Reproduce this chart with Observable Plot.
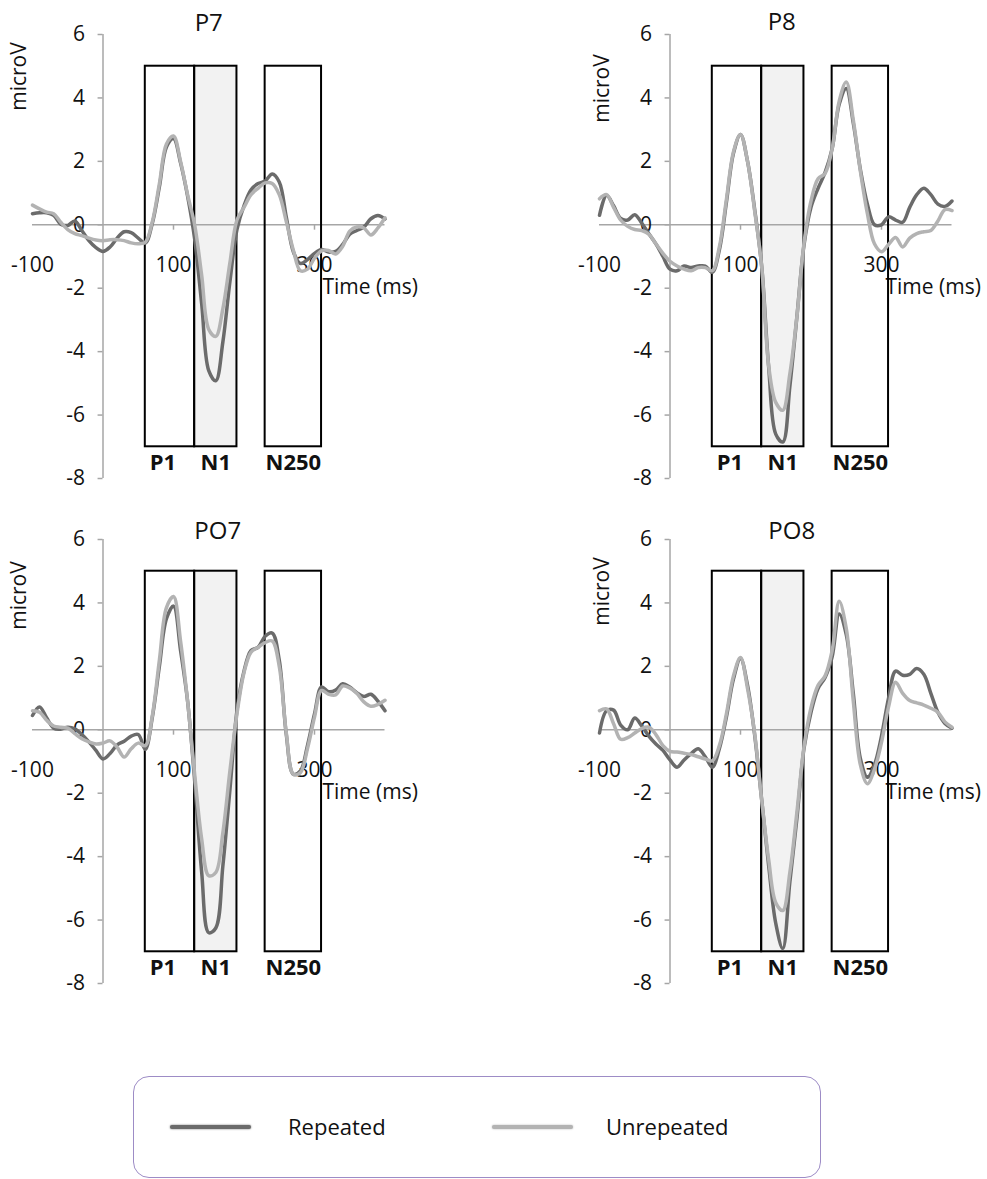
<!DOCTYPE html>
<html>
<head>
<meta charset="utf-8">
<script src="https://cdn.jsdelivr.net/npm/d3@7"></script>
<script src="https://cdn.jsdelivr.net/npm/@observablehq/plot@0.6"></script>
<style>
  html, body { margin: 0; padding: 0; background: #fff; }
  #page { position: relative; width: 987px; height: 1179px; overflow: hidden; font-family: "Open Sans", sans-serif; }
  .panel { position: absolute; width: 420px; height: 490px; }
  .panel svg { overflow: visible; }
  #legend { position: absolute; left: 133px; top: 1076px; width: 688px; height: 102px; box-sizing: border-box;
            border: 1.5px solid #9d8cc6; border-radius: 16px; }
  .lg-line { position: absolute; height: 4px; width: 81px; border-radius: 2px; }
  .lg-text { position: absolute; font-size: 22px; line-height: 1; color: #111; }
</style>
</head>
<body>
<div id="page"></div>
<script>
// ---- data ----
const times = [-100,-90,-80,-70,-60,-50,-40,-30,-20,-10,0,10,20,30,40,50,60,70,80,90,100,110,120,130,140,150,160,170,180,190,200,210,220,230,240,250,260,270,280,290,300,310,320,330,340,350,360,370,380,390,400];

const p7Repeated = [0.35,0.38,0.38,0.3,0.02,-0.02,0.12,-0.18,-0.5,-0.72,-0.84,-0.7,-0.42,-0.22,-0.25,-0.42,-0.58,0.05,1.2,2.45,2.72,1.95,0.9,-0.45,-2.5,-4.6,-4.92,-3.7,-1.8,-0.15,0.6,1.1,1.3,1.38,1.6,1.35,0.24,-0.85,-1.22,-1.1,-0.9,-0.78,-0.86,-0.84,-0.62,-0.3,-0.18,-0.07,0.19,0.29,0.18];
const p7Unrepeated = [0.62,0.5,0.4,0.35,0.08,-0.15,-0.28,-0.34,-0.42,-0.48,-0.5,-0.47,-0.47,-0.5,-0.57,-0.6,-0.55,0.1,1.3,2.55,2.8,2.0,0.95,0.0,-1.6,-3.3,-3.52,-2.65,-1.2,0.15,0.55,0.95,1.15,1.32,1.3,0.95,0.1,-0.8,-1.45,-1.4,-1.05,-0.82,-0.81,-0.92,-0.68,-0.2,-0.07,-0.1,-0.32,-0.1,0.22];

const p8Repeated = [0.3,0.93,0.6,0.2,0.15,0.32,0.05,-0.28,-0.6,-1.0,-1.4,-1.45,-1.3,-1.35,-1.3,-1.3,-1.5,-0.8,0.7,2.25,2.85,2.0,0.5,-1.3,-4.5,-6.6,-6.85,-5.1,-2.9,-0.65,0.55,1.15,1.65,2.4,3.8,4.3,3.2,1.75,0.65,0.0,0.0,0.25,0.15,0.08,0.55,0.95,1.15,0.95,0.65,0.58,0.75];
const p8Unrepeated = [0.82,0.95,0.55,0.15,-0.05,-0.15,-0.18,-0.3,-0.6,-0.9,-1.15,-1.3,-1.4,-1.45,-1.35,-1.35,-1.45,-0.7,0.8,2.3,2.85,2.0,0.45,-1.3,-4.45,-5.6,-5.85,-4.7,-2.9,-0.6,0.75,1.45,1.62,2.4,3.9,4.5,3.3,1.7,0.35,-0.6,-0.85,-0.62,-0.4,-0.7,-0.42,-0.28,-0.22,-0.18,0.12,0.48,0.45];

const po7Repeated = [0.45,0.72,0.38,0.05,0.02,0.08,0.03,-0.15,-0.38,-0.65,-0.92,-0.75,-0.48,-0.36,-0.2,-0.15,-0.62,0.4,2.0,3.5,3.9,2.5,0.9,-1.6,-4.5,-6.4,-6.25,-4.3,-1.9,0.6,1.85,2.5,2.6,2.95,3.05,2.2,-0.15,-1.4,-1.3,-0.5,0.5,1.35,1.2,1.25,1.45,1.35,1.17,1.05,1.12,0.9,0.6];
const po7Unrepeated = [0.6,0.55,0.3,0.12,0.08,0.05,-0.12,-0.28,-0.38,-0.45,-0.42,-0.35,-0.55,-0.86,-0.6,-0.42,-0.5,0.45,2.2,3.85,4.2,2.8,0.9,-1.4,-3.45,-4.6,-4.5,-3.25,-1.3,0.5,1.8,2.45,2.6,2.75,2.8,2.0,-0.1,-1.4,-1.35,-0.6,0.4,1.24,1.12,1.1,1.38,1.32,1.15,0.88,0.74,0.8,0.93];

const po8Repeated = [-0.1,0.6,0.62,0.15,0.0,0.37,0.12,-0.2,-0.45,-0.65,-0.95,-1.18,-0.95,-0.75,-0.6,-0.85,-1.18,-0.6,0.4,1.6,2.25,1.4,-0.15,-2.2,-4.3,-6.1,-6.9,-4.8,-2.8,-0.6,0.55,1.3,1.65,2.3,3.65,3.0,1.15,-0.9,-1.5,-1.1,-0.2,1.0,1.85,1.72,1.75,1.93,1.75,1.15,0.55,0.2,0.05];
const po8Unrepeated = [0.6,0.66,0.19,-0.3,-0.25,-0.1,0.04,0.08,-0.15,-0.5,-0.68,-0.7,-0.74,-0.78,-0.85,-0.92,-0.98,-0.5,0.5,1.7,2.28,1.3,-0.1,-2.2,-4.1,-5.45,-5.7,-4.5,-2.6,-0.55,0.7,1.4,1.7,2.5,4.05,3.2,0.9,-1.1,-1.7,-1.25,-0.4,0.72,1.5,1.15,0.92,0.85,0.78,0.68,0.55,0.25,0.08];

const channels = ["P7", "P8", "PO7", "PO8"];
const conditions = ["Repeated", "Unrepeated"];
const windowNames = ["P1", "N1", "N250"];
const windowStart = [60, 130, 230];
const windowEnd = [130, 190, 310];
const yTicks = [6, 4, 2, 0, -2, -4, -6, -8];
const xTickLabels = [-100, 100, 300];
const xTickMarks = [100, 300];

// ---- styles / layout ----
const colors = ["#6b6b6b", "#b3b3b3"];
const seriesByChannel = {
  P7: [p7Repeated, p7Unrepeated],
  P8: [p8Repeated, p8Unrepeated],
  PO7: [po7Repeated, po7Unrepeated],
  PO8: [po8Repeated, po8Unrepeated]
};
const layout = {
  P7:  {left: 0,   top: 0,   titleDx: 0,  titleDy: -11, microDx: -13, microDy: 42, timeDx: 8},
  P8:  {left: 567, top: 0,   titleDx: 6,  titleDy: -12, microDx: 3,   microDy: 54, timeDx: 4},
  PO7: {left: 0,   top: 505, titleDx: 9,  titleDy: -8,  microDx: -13, microDy: 56, timeDx: 8},
  PO8: {left: 567, top: 505, titleDx: 16, titleDy: -8,  microDx: 3,   microDy: 52, timeDx: 4}
};

const windows = windowNames.map((name, i) => ({name, start: windowStart[i], end: windowEnd[i]}));
const axisGray = "#a6a6a6";
const font = '"Open Sans", sans-serif';

function panel(ch) {
  const [rep, unrep] = seriesByChannel[ch];
  const L = layout[ch];
  const data = [];
  conditions.forEach((cond, k) => {
    const vals = k === 0 ? rep : unrep;
    times.forEach((t, i) => data.push({t, v: vals[i], cond}));
  });
  return Plot.plot({
    width: 420,
    height: 490,
    marginTop: 34,
    marginBottom: 12,
    marginLeft: 32,
    marginRight: 35.5,
    x: {domain: [-100, 400], axis: null},
    y: {domain: [-8, 6], axis: null},
    color: {domain: conditions, range: colors},
    style: {fontFamily: font, fontSize: "20px", color: "#111", background: "white", overflow: "visible"},
    marks: [
      // N1 shaded window
      Plot.rect(windows.filter(w => w.name === "N1"), {x1: "start", x2: "end", y1: -7, y2: 5, fill: "#f2f2f2"}),
      // axes
      Plot.ruleY([0], {stroke: axisGray, strokeWidth: 1.5}),
      Plot.ruleX([0], {stroke: axisGray, strokeWidth: 1.5}),
      Plot.ruleY(yTicks, {x1: -7, x2: 0, stroke: axisGray, strokeWidth: 1.5}),
      Plot.ruleX(xTickMarks, {y1: 0, y2: -0.17, stroke: axisGray, strokeWidth: 1.5}),
      Plot.text(yTicks, {x: 0, y: d => d, text: d => String(d), textAnchor: "end", lineAnchor: "middle", dx: -18, fontSize: 21}),
      Plot.text(xTickLabels, {x: d => d, y: 0, text: d => String(d), lineAnchor: "middle", dy: 40, fontSize: 21}),
      Plot.text(["Time (ms)"], {x: 300, y: 0, dx: L.timeDx, dy: 62, textAnchor: "start", lineAnchor: "middle", fontSize: 21}),
      // component windows
      Plot.rect(windows, {x1: "start", x2: "end", y1: -7, y2: 5, stroke: "#000", strokeWidth: 2, fill: "none"}),
      Plot.text(windows.filter(w => w.name === "P1"), {x: w => (w.start + w.end) / 2, y: -7, text: "name", lineAnchor: "middle", dy: 16, dx: -7, fontWeight: "bold", fontSize: 22}),
      Plot.text(windows.filter(w => w.name !== "P1"), {x: w => (w.start + w.end) / 2, y: -7, text: "name", lineAnchor: "middle", dy: 16, fontWeight: "bold", fontSize: 22}),
      // waveforms
      Plot.line(data, {x: "t", y: "v", z: "cond", stroke: "cond", strokeWidth: 3.5, curve: "catmull-rom"}),
      // titles
      Plot.text([ch], {frameAnchor: "top", lineAnchor: "middle", textAnchor: "middle", dx: L.titleDx, dy: L.titleDy, fontSize: 24}),
      Plot.text(["microV"], {frameAnchor: "top-left", lineAnchor: "middle", textAnchor: "middle", rotate: -90, dx: L.microDx, dy: L.microDy, fontSize: 21})
    ]
  });
}

const page = document.getElementById("page");
channels.forEach(ch => {
  const div = document.createElement("div");
  div.className = "panel";
  div.style.left = layout[ch].left + "px";
  div.style.top = layout[ch].top + "px";
  div.appendChild(panel(ch));
  page.appendChild(div);
});

// legend
const legend = document.createElement("div");
legend.id = "legend";
const lgLineLeft = [36, 358];
const lgTextLeft = [154, 472];
conditions.forEach((cond, i) => {
  const line = document.createElement("div");
  line.className = "lg-line";
  line.style.left = lgLineLeft[i] + "px";
  line.style.top = "48px";
  line.style.background = colors[i];
  line.style.boxShadow = `0 0 2px ${colors[i]}`;
  legend.appendChild(line);
  const txt = document.createElement("div");
  txt.className = "lg-text";
  txt.style.left = lgTextLeft[i] + "px";
  txt.style.top = "38px";
  txt.textContent = cond;
  legend.appendChild(txt);
});
page.appendChild(legend);
</script>
</body>
</html>
